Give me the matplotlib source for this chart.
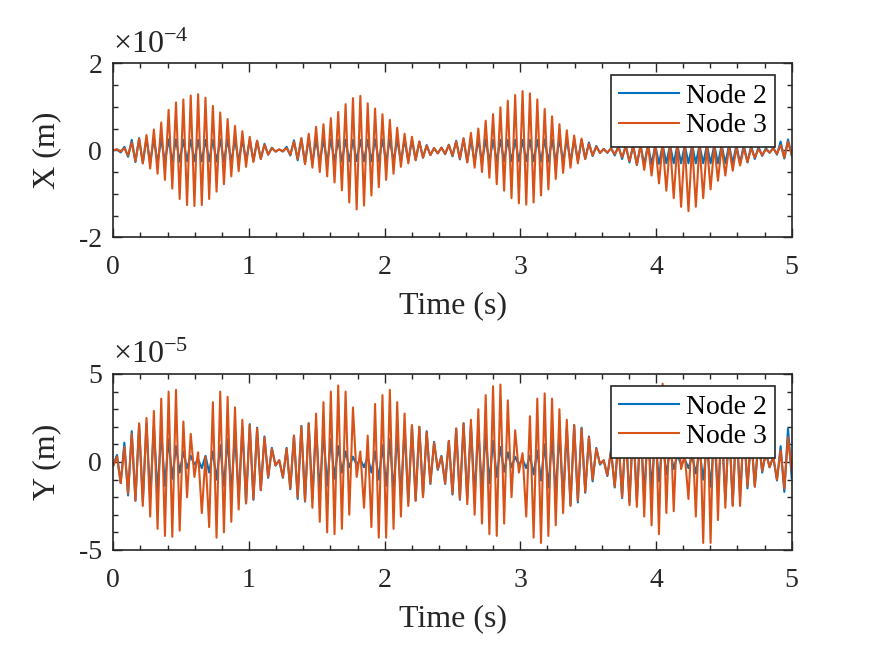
import numpy as np
import matplotlib
matplotlib.use("Agg")
import matplotlib.pyplot as plt
from matplotlib.ticker import MultipleLocator

# sampled response, alternating samples: "dn" at even steps, "up" at odd steps
# X displacement in units of 1e-4 m
x_node2_up = [0.02, 0.08, 0.24, 0.28, 0.28, 0.27, 0.26, 0.25, 0.25, 0.24,
              0.24, 0.24, 0.24, 0.24, 0.25, 0.25, 0.25, 0.25, 0.24, 0.22,
              0.15, 0.06, 0.02, 0.08, 0.23, 0.27, 0.27, 0.26, 0.25, 0.25,
              0.24, 0.24, 0.24, 0.24, 0.24, 0.25, 0.25, 0.25, 0.25, 0.25,
              0.24, 0.20, 0.12, 0.05, 0.06, 0.13, 0.22, 0.26, 0.26, 0.25,
              0.25, 0.24, 0.24, 0.24, 0.24, 0.24, 0.24, 0.24, 0.25, 0.25,
              0.25, 0.25, 0.25, 0.24, 0.18, 0.10, 0.03, 0.05, 0.10, 0.12,
              0.12, 0.12, 0.12, 0.12, 0.12, 0.12, 0.12, 0.12, 0.12, 0.12,
              0.12, 0.12, 0.12, 0.12, 0.12, 0.12, 0.10, 0.08, 0.05, 0.06,
              0.20, 0.25]
x_node2_dn = [0.00, -0.05, -0.15, -0.27, -0.30, -0.29, -0.28, -0.27, -0.26, -0.26,
              -0.25, -0.25, -0.25, -0.25, -0.26, -0.26, -0.27, -0.26, -0.25, -0.24,
              -0.20, -0.10, -0.03, -0.03, -0.12, -0.23, -0.30, -0.30, -0.28, -0.27,
              -0.26, -0.26, -0.25, -0.25, -0.25, -0.25, -0.26, -0.26, -0.26, -0.26,
              -0.25, -0.22, -0.17, -0.11, -0.07, -0.09, -0.14, -0.21, -0.27, -0.28,
              -0.27, -0.26, -0.25, -0.25, -0.25, -0.25, -0.25, -0.25, -0.26, -0.26,
              -0.26, -0.26, -0.25, -0.24, -0.20, -0.13, -0.06, -0.06, -0.12, -0.20,
              -0.28, -0.34, -0.33, -0.32, -0.31, -0.30, -0.30, -0.30, -0.30, -0.30,
              -0.30, -0.30, -0.30, -0.30, -0.30, -0.30, -0.28, -0.20, -0.13, -0.06,
              -0.10, -0.19, -0.12]
x_node3_up = [0.02, 0.05, 0.18, 0.26, 0.35, 0.48, 0.64, 0.93, 1.10, 1.17,
              1.26, 1.29, 1.21, 1.02, 0.87, 0.72, 0.56, 0.44, 0.31, 0.22,
              0.13, 0.05, 0.02, 0.05, 0.20, 0.28, 0.38, 0.54, 0.60, 0.74,
              0.88, 1.06, 1.20, 1.25, 1.08, 0.96, 0.83, 0.70, 0.52, 0.38,
              0.31, 0.20, 0.11, 0.05, 0.06, 0.12, 0.20, 0.28, 0.40, 0.50,
              0.68, 0.83, 0.99, 1.14, 1.27, 1.36, 1.31, 1.17, 0.95, 0.78,
              0.60, 0.46, 0.34, 0.27, 0.15, 0.08, 0.03, 0.04, 0.06, 0.08,
              0.10, 0.12, 0.14, 0.15, 0.15, 0.16, 0.16, 0.15, 0.15, 0.14,
              0.12, 0.10, 0.09, 0.08, 0.06, 0.05, 0.04, 0.03, 0.02, 0.04,
              0.12, 0.20]
x_node3_dn = [0.00, -0.03, -0.12, -0.25, -0.30, -0.42, -0.54, -0.68, -0.88, -1.12,
              -1.26, -1.28, -1.26, -1.12, -0.95, -0.78, -0.60, -0.48, -0.38, -0.27,
              -0.20, -0.10, -0.03, -0.02, -0.10, -0.20, -0.32, -0.40, -0.50, -0.60,
              -0.74, -0.92, -1.20, -1.36, -1.27, -1.04, -0.85, -0.68, -0.54, -0.38,
              -0.30, -0.23, -0.17, -0.11, -0.07, -0.08, -0.12, -0.19, -0.28, -0.40,
              -0.50, -0.63, -0.78, -0.93, -1.10, -1.22, -1.25, -1.20, -1.04, -0.90,
              -0.66, -0.52, -0.40, -0.30, -0.20, -0.12, -0.06, -0.05, -0.09, -0.16,
              -0.25, -0.33, -0.45, -0.58, -0.76, -0.93, -1.10, -1.30, -1.40, -1.30,
              -1.10, -0.90, -0.70, -0.58, -0.47, -0.35, -0.27, -0.17, -0.11, -0.05,
              -0.08, -0.17, -0.10]

# Y displacement in units of 1e-5 m
y_node2_up = [0.4, 1.1, 1.75, 2.15, 2.2, 2.0, 1.7, 1.3, 0.9, 0.6, 0.35, 0.15, 0.35, 0.6,
              0.95, 1.3, 1.65, 1.95, 2.15, 1.95, 1.45, 0.8, 0.1,
              0.8, 1.5, 2.05, 2.2, 2.0, 1.7, 1.3, 0.9, 0.6, 0.3, 0.15, 0.3, 0.6, 0.95,
              1.3, 1.65, 1.95, 2.05, 2.0, 1.75, 1.15, 0.35,
              1.2, 1.9, 2.2, 2.1, 1.9, 1.6, 1.2, 0.85, 0.55, 0.3, 0.15, 0.35, 0.65, 1.0,
              1.35, 1.7, 1.95, 2.1, 1.95, 1.45, 0.8, 0.1,
              0.7, 1.35, 1.95, 2.2, 2.1, 1.85, 1.5, 1.1, 0.7, 0.4, 0.15, 0.35, 0.65, 1.0,
              1.4, 1.75, 2.05, 2.3, 1.9, 1.5, 1.3, 0.6, 0.3,
              0.9, 1.9]
y_node2_dn = [-0.2, -1.2, -1.9, -2.2, -2.25, -2.05, -1.75, -1.35, -0.95, -0.6, -0.35, -0.15,
              -0.35, -0.6, -1.0, -1.35, -1.7, -2.0, -2.35, -2.15, -1.6, -0.9, -0.2,
              -0.9, -1.55, -2.1, -2.25, -2.05, -1.75, -1.35, -0.95, -0.6, -0.3, -0.15, -0.3,
              -0.6, -1.0, -1.35, -1.7, -2.0, -2.3, -2.2, -1.9, -1.25, -0.45,
              -1.25, -1.85, -2.15, -2.1, -1.9, -1.6, -1.2, -0.85, -0.55, -0.3, -0.15, -0.35,
              -0.7, -1.05, -1.45, -1.8, -2.1, -2.45, -2.3, -1.75, -1.1, -0.15,
              -0.8, -1.45, -2.05, -2.3, -2.2, -1.9, -1.5, -1.1, -0.7, -0.4, -0.15, -0.35,
              -0.65, -1.0, -1.4, -1.8, -2.15, -2.45, -2.0, -1.5, -1.4, -0.6, -0.3,
              -1.05, -1.7, -0.9]
y_node3_up = [0.3, 0.85, 1.6, 2.2, 2.5, 2.9, 3.6, 4.0, 4.1, 2.3, 1.6, 0.55, 0.3, 3.4,
              4.0, 3.7, 3.1, 2.4, 2.1, 1.9, 1.4, 0.75, 0.1,
              0.75, 1.5, 2.0, 2.2, 2.75, 3.4, 4.0, 4.35, 4.0, 3.1, 0.6, 1.5, 3.3, 3.8,
              4.1, 3.4, 2.75, 2.1, 2.0, 1.7, 1.1, 0.3,
              1.2, 1.9, 2.2, 2.4, 3.0, 3.8, 4.3, 4.4, 3.5, 1.8, 0.5, 2.6, 3.6, 3.9,
              3.6, 3.0, 2.4, 2.1, 1.9, 1.4, 0.75, 0.1,
              0.6, 1.3, 1.9, 2.3, 2.5, 3.0, 3.6, 4.45, 3.0, 2.5, 0.4, 2.0, 3.0, 4.0,
              4.0, 3.2, 2.6, 2.5, 2.3, 1.4, 1.3, 0.5, 0.3,
              0.65, 1.4]
y_node3_dn = [-0.2, -1.2, -1.8, -2.2, -2.5, -3.1, -3.8, -4.2, -4.25, -3.9, -2.0, -0.85,
              -2.9, -3.7, -4.3, -4.0, -3.4, -2.7, -2.35, -2.1, -1.6, -0.85, -0.2,
              -0.85, -1.5, -2.0, -2.2, -2.6, -3.4, -4.0, -4.1, -3.8, -3.0, -0.85, -2.6,
              -3.7, -4.3, -4.3, -3.8, -3.1, -2.5, -2.2, -2.0, -1.2, -0.4,
              -1.2, -1.8, -2.1, -2.4, -3.0, -3.5, -4.1, -4.2, -3.5, -2.0, -0.6, -3.1,
              -4.3, -4.6, -4.2, -3.6, -2.9, -2.5, -2.2, -1.7, -1.0, -0.1,
              -0.75, -1.4, -2.0, -2.45, -2.55, -3.1, -3.6, -4.1, -2.9, -2.8, -0.4, -2.1,
              -3.1, -4.6, -4.6, -3.3, -2.6, -2.5, -2.5, -1.4, -1.4, -0.5, -0.3,
              -1.0, -1.5, -0.5]

t_end = 5.0
labels = ["Node 2", "Node 3"]
blue = "#0072BD"
orange = "#D95319"
dark = "#262626"


def interleave(dn, up):
    s = np.empty(len(dn) + len(up))
    s[0::2] = dn
    s[1::2] = up
    return s


x2 = interleave(x_node2_dn, x_node2_up)
x3 = interleave(x_node3_dn, x_node3_up)
y2 = interleave(y_node2_dn, y_node2_up)
y3 = interleave(y_node3_dn, y_node3_up)
t = np.linspace(0, t_end, len(x2))

plt.rcParams["font.family"] = ["Liberation Serif", "DejaVu Serif"]
plt.rcParams["mathtext.fontset"] = "custom"
plt.rcParams["mathtext.rm"] = "Liberation Serif"
plt.rcParams["mathtext.it"] = "Liberation Serif:italic"
plt.rcParams["axes.unicode_minus"] = False

fig = plt.figure(figsize=(8.75, 6.56), dpi=100)
ax1 = fig.add_axes([0.1295, 0.6383, 0.7753, 0.2652])
ax2 = fig.add_axes([0.1295, 0.1616, 0.7753, 0.2683])

panels = [
    (ax1, x2, x3, 2, 0.5, "X (m)", r"$\times10^{-4}$"),
    (ax2, y2, y3, 5, 1, "Y (m)", r"$\times10^{-5}$"),
]

for ax, s2, s3, lim, minor, ylab, mult in panels:
    ax.plot(t, s2, color=blue, lw=1.5)
    ax.plot(t, s3, color=orange, lw=1.5)
    ax.set_xlim(0, t_end)
    ax.set_ylim(-lim, lim)
    ax.set_yticks([-lim, 0, lim])
    ax.xaxis.set_major_locator(MultipleLocator(1))
    ax.xaxis.set_minor_locator(MultipleLocator(0.2))
    ax.yaxis.set_minor_locator(MultipleLocator(minor))
    ax.tick_params(which="both", direction="in", top=True, right=True,
                   colors=dark, labelsize=20, width=1.0)
    ax.tick_params(which="major", length=6.5)
    ax.tick_params(which="minor", length=3.5)
    ax.tick_params(axis="x", which="major", pad=13)
    ax.tick_params(axis="y", which="major", pad=8)
    for sp in ax.spines.values():
        sp.set_color(dark)
        sp.set_linewidth(1.2)
    ax.set_xlabel("Time (s)", fontsize=23, color=dark, labelpad=8)
    ax.set_ylabel(ylab, fontsize=23, color=dark, labelpad=13)
    ax.text(0.0, 1.02, mult, transform=ax.transAxes, fontsize=23,
            color=dark, ha="left", va="bottom")
    leg = ax.legend(labels, loc="upper right", bbox_to_anchor=(0.975, 0.933),
                    fancybox=False, edgecolor=dark, framealpha=1, fontsize=20,
                    handlelength=2.15, handletextpad=0.25, borderpad=0.3,
                    labelspacing=0.15, borderaxespad=0)
    leg.get_frame().set_linewidth(1.2)

fig.savefig("out.png", dpi=100)
